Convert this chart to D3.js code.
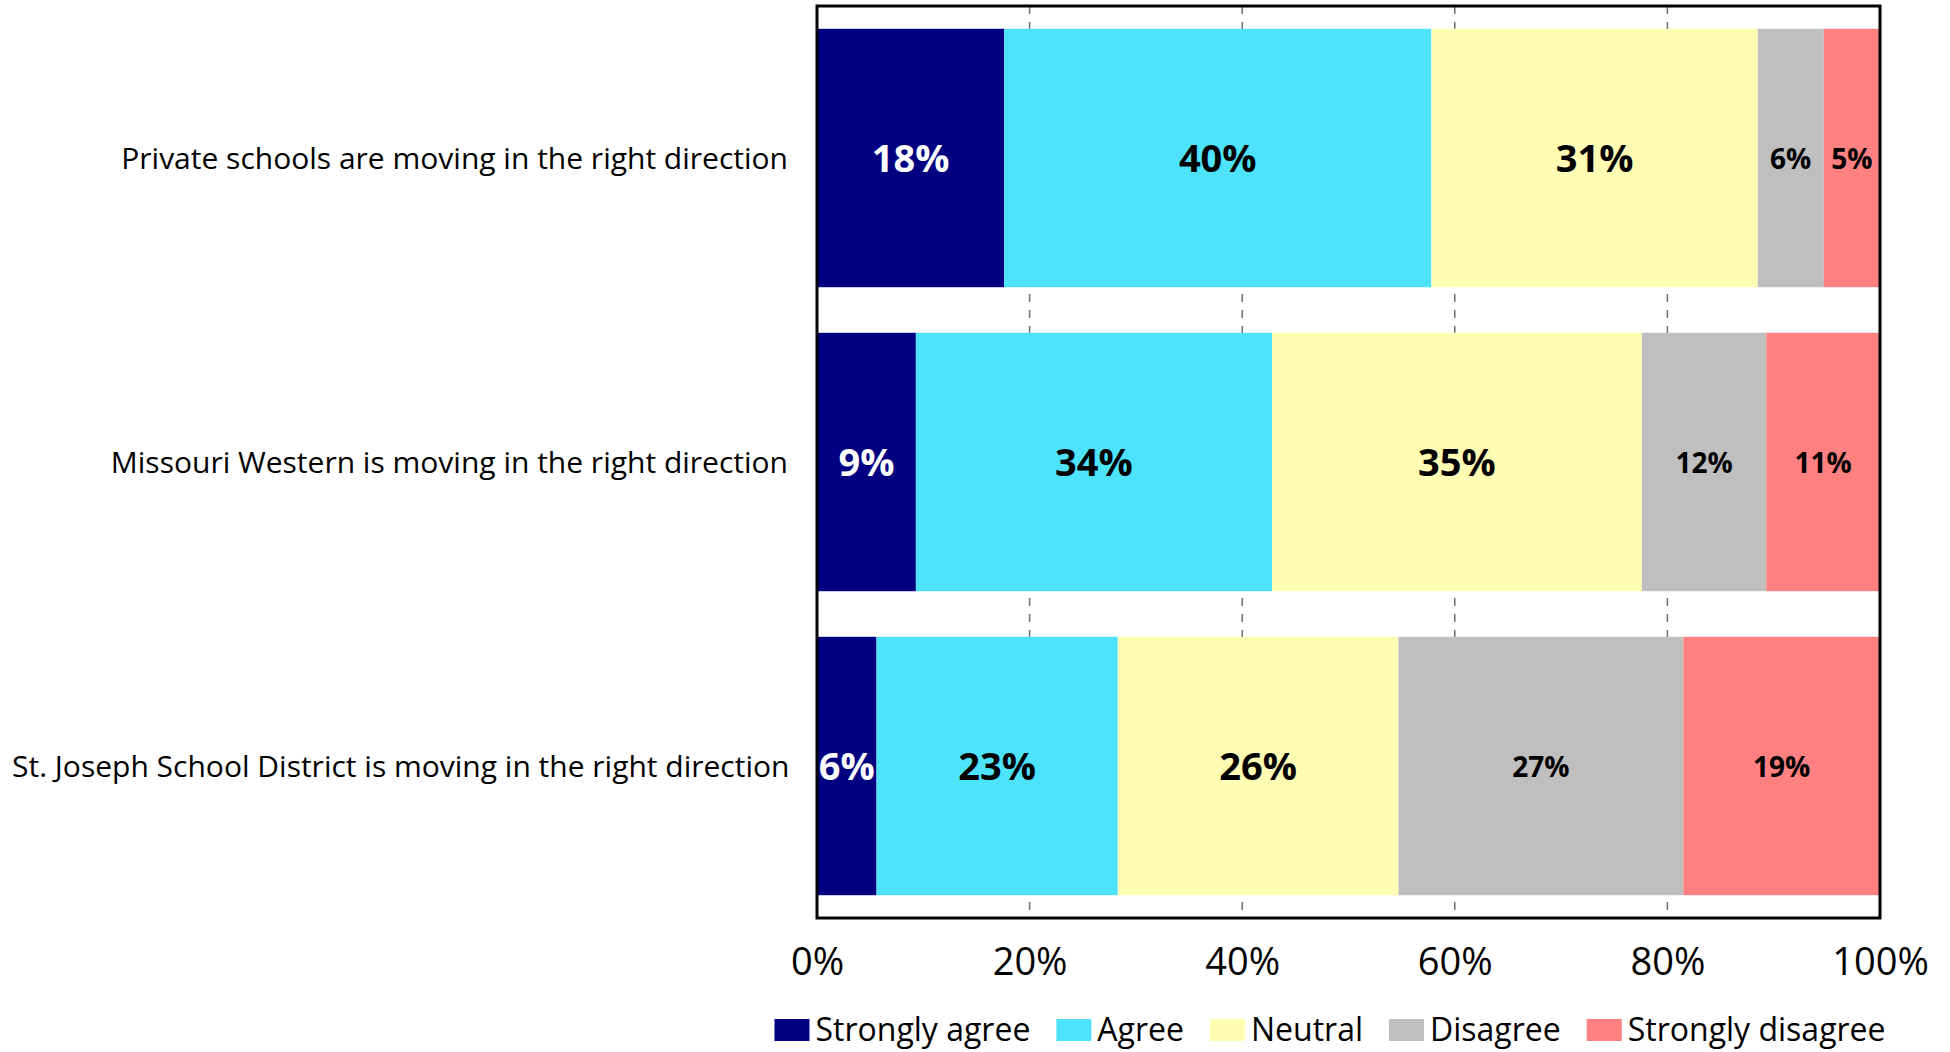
<!DOCTYPE html>
<html>
<head>
<meta charset="utf-8">
<script src="https://cdn.jsdelivr.net/npm/d3@7"></script>
<style>
  html, body { margin: 0; padding: 0; background: #ffffff; }
  svg { display: block; }
  text { font-family: "Open Sans", sans-serif; }
</style>
</head>
<body>
<svg id="chart" width="1950" height="1052"></svg>
<script>
// ---- Data ----
const categories = [
  "Private schools are moving in the right direction",
  "Missouri Western is moving in the right direction",
  "St. Joseph School District is moving in the right direction"
];
const seriesNames = ["Strongly agree", "Agree", "Neutral", "Disagree", "Strongly disagree"];
const stronglyAgree    = [17.6, 9.3, 5.6];
const agree            = [40.2, 33.5, 22.7];
const neutral          = [30.7, 34.8, 26.4];
const disagree         = [6.2, 11.7, 26.8];
const stronglyDisagree = [5.3, 10.7, 18.5];
const xTicks = [0, 20, 40, 60, 80, 100];
const seriesColors = ["#000080", "#4DE3FD", "#FFFDB3", "#BFBFBF", "#FF8080"];

// ---- Build table ----
const seriesValues = [stronglyAgree, agree, neutral, disagree, stronglyDisagree];
const table = categories.map((c, i) => {
  const row = { category: c };
  seriesNames.forEach((s, j) => { row[s] = seriesValues[j][i]; });
  return row;
});
const stacked = d3.stack().keys(seriesNames)(table);

// ---- Layout ----
const FONT = '"Open Sans", sans-serif';
const svg = d3.select("#chart");
const plot = { left: 817, right: 1880, top: 6, bottom: 918 };

const x = d3.scaleLinear().domain([0, 100]).range([plot.left, plot.right]);
const y = d3.scaleBand().domain(categories).range([plot.top, plot.bottom])
  .paddingInner(0.15).paddingOuter(0.075);
const color = d3.scaleOrdinal().domain(seriesNames).range(seriesColors);

// gridlines
svg.append("g").selectAll("line")
  .data(xTicks.filter(t => t > 0 && t < 100))
  .join("line")
  .attr("x1", d => x(d)).attr("x2", d => x(d))
  .attr("y1", plot.top).attr("y2", plot.bottom)
  .attr("stroke", "#6e6e6e").attr("stroke-width", 1.5)
  .attr("stroke-dasharray", "8,8");

// bars
const layers = svg.append("g").selectAll("g")
  .data(stacked).join("g")
  .attr("fill", d => color(d.key));
layers.selectAll("rect")
  .data(d => d)
  .join("rect")
  .attr("x", d => x(d[0]))
  .attr("width", d => x(d[1]) - x(d[0]))
  .attr("y", d => y(d.data.category))
  .attr("height", y.bandwidth());

// value labels
const bigSeries = new Set(["Strongly agree", "Agree", "Neutral"]);
const labelLayers = svg.append("g").selectAll("g")
  .data(stacked).join("g");
labelLayers.each(function(layer) {
  d3.select(this).selectAll("text")
    .data(layer)
    .join("text")
    .attr("x", d => (x(d[0]) + x(d[1])) / 2)
    .attr("y", d => y(d.data.category) + y.bandwidth() / 2)
    .attr("dy", "0.38em")
    .attr("text-anchor", "middle")
    .attr("font-weight", "bold")
    .attr("font-size", bigSeries.has(layer.key) ? 38 : 28)
    .attr("fill", layer.key === "Strongly agree" ? "#ffffff" : "#000000")
    .text(d => Math.round(d[1] - d[0]) + "%");
});

// plot border
svg.append("rect")
  .attr("x", plot.left).attr("y", plot.top)
  .attr("width", plot.right - plot.left).attr("height", plot.bottom - plot.top)
  .attr("fill", "none").attr("stroke", "#000").attr("stroke-width", 3);

// x axis
const xAxis = svg.append("g")
  .attr("transform", `translate(0,${plot.bottom})`)
  .call(d3.axisBottom(x).tickValues(xTicks).tickFormat(d => d + "%").tickSize(0));
xAxis.select(".domain").remove();
xAxis.selectAll("text")
  .attr("y", 57).attr("dy", 0)
  .attr("font-size", 38)
  .attr("font-family", FONT)
  .attr("fill", "#000");

// category labels
const catG = svg.append("g");
catG.selectAll("text")
  .data(categories)
  .join("text")
  .attr("x", plot.left - 29)
  .attr("y", d => y(d) + y.bandwidth() / 2)
  .attr("dy", "0.38em")
  .attr("text-anchor", "end")
  .attr("font-size", 30)
  .attr("fill", "#000")
  .text(d => d)
  .each(function() {
    const w = this.getComputedTextLength();
    const minStart = 12;
    if (plot.left - 29 - w < minStart) {
      d3.select(this).attr("text-anchor", "start").attr("x", minStart);
    }
  });

// legend
const legend = svg.append("g");
const items = legend.selectAll("g").data(seriesNames).join("g");
items.append("rect")
  .attr("width", 35).attr("height", 22)
  .attr("y", 1019)
  .attr("fill", d => color(d));
items.append("text")
  .attr("x", 41).attr("y", 1041)
  .attr("font-size", 32)
  .attr("fill", "#000")
  .text(d => d);
let offset = 0;
const positions = [];
items.each(function() {
  const w = d3.select(this).select("text").node().getComputedTextLength();
  positions.push(offset);
  offset += 41 + w + 26;
});
const totalW = offset - 26;
const startX = 1330 - totalW / 2;
items.attr("transform", (d, i) => `translate(${startX + positions[i]},0)`);
</script>
</body>
</html>
